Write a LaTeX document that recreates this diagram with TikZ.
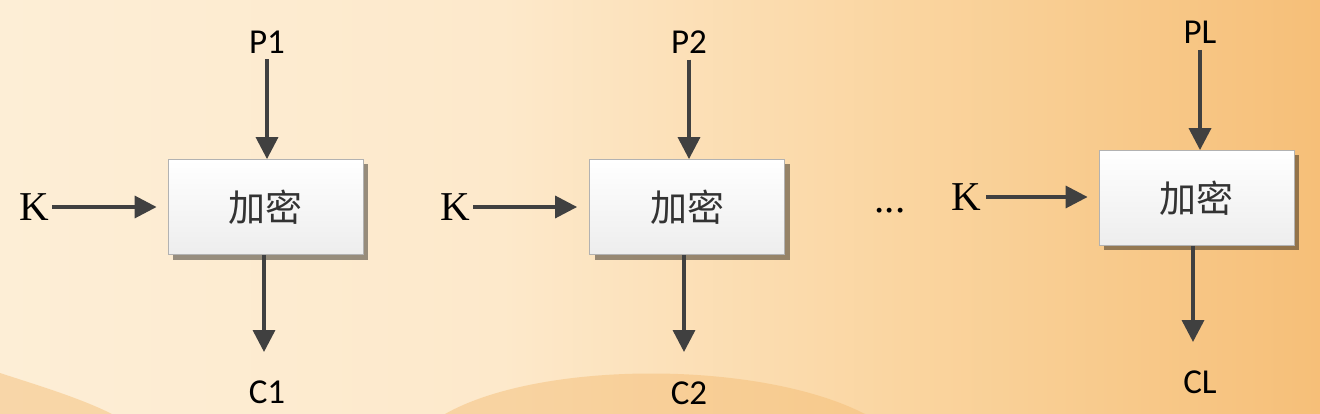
\documentclass[tikz,border=0pt]{standalone}
\usepackage{fontspec}
\setmainfont{Liberation Serif}
\newfontfamily\labelfont{Carlito}
\newfontfamily\cjkfont{Noto Sans CJK SC}
\usetikzlibrary{arrows.meta,shadows}
\definecolor{bgA}{RGB}{253,238,214}
\definecolor{bgB}{RGB}{253,233,203}
\definecolor{bgC}{RGB}{250,212,158}
\definecolor{bgD}{RGB}{246,191,120}
\definecolor{bumpc}{RGB}{244,186,112}
\definecolor{arrowgray}{RGB}{64,64,64}
\pgfdeclarehorizontalshading{bgshade}{100bp}{color(0bp)=(bgA); color(25bp)=(bgA); color(44bp)=(bgB); color(60bp)=(bgC); color(75bp)=(bgD); color(100bp)=(bgD)}
\tikzset{
  encbox/.style={draw=gray!60, line width=0.8pt, top color=white, bottom color=gray!14,
    minimum width=195pt, minimum height=95pt, inner sep=0pt,
    drop shadow={shadow xshift=5pt, shadow yshift=-5pt, fill=black, opacity=0.4},
    font=\cjkfont\fontsize{37}{40}\selectfont, text=black!80},
  lbl/.style={inner sep=3pt, font=\labelfont\fontsize{35}{38}\selectfont, text=black},
  klbl/.style={inner sep=3pt, font=\fontsize{41}{44}\selectfont, text=black},
  arr/.style={draw=arrowgray, line width=3.5pt, -{Triangle[length=22pt,width=22pt]}},
  bump/.style={fill=bumpc, fill opacity=0.45}
}
\begin{document}
\begin{tikzpicture}[x=1pt,y=-1pt]
% background
\shade[shading=bgshade] (0,0) rectangle (1320,414);
\useasboundingbox (0,0) rectangle (1320,414);
\fill[bump] (0,373) .. controls (40,386) and (80,398) .. (112,414) -- (0,414) -- cycle;
\fill[bump] (445,414) .. controls (540,360) and (760,360) .. (865,414) -- cycle;

% boxes
\node[encbox] (b1) at (265.5,207) {加密};
\node[encbox] (b2) at (687,207) {加密};
\node[encbox] (bL) at (1196.5,198) {加密};

% labels
\node[lbl] (p1) at (267,42) {P1};
\node[lbl] (p2) at (689,42) {P2};
\node[lbl] (pL) at (1200,32.5) {PL};
\node[lbl] (c1) at (267,392.5) {C1};
\node[lbl] (c2) at (689,393) {C2};
\node[lbl] (cL) at (1200,382.5) {CL};
\node[klbl] (k1) at (34,207) {K};
\node[klbl] (k2) at (455,207) {K};
\node[klbl] (kL) at (966,197) {K};
\node[klbl] (dots) at (890,211) {...};

\coordinate (t1) at (264,352);
\coordinate (t2) at (684,352);
\coordinate (tL) at (1193,342);

% arrows
\draw[arr, shorten <=3pt] (p1) -- (p1 |- b1.north);
\draw[arr, shorten <=3pt] (p2) -- (p2 |- b2.north);
\draw[arr, shorten <=3pt] (pL) -- (pL |- bL.north);
\draw[arr] (t1 |- b1.south) -- (t1);
\draw[arr] (t2 |- b2.south) -- (t2);
\draw[arr] (tL |- bL.south) -- (tL);
\draw[arr, shorten >=11pt] (k1) -- (k1 -| b1.west);
\draw[arr, shorten >=12pt] (k2) -- (k2 -| b2.west);
\draw[arr, shorten <=2pt, shorten >=11pt] (kL) -- (kL -| bL.west);
\end{tikzpicture}
\end{document}
